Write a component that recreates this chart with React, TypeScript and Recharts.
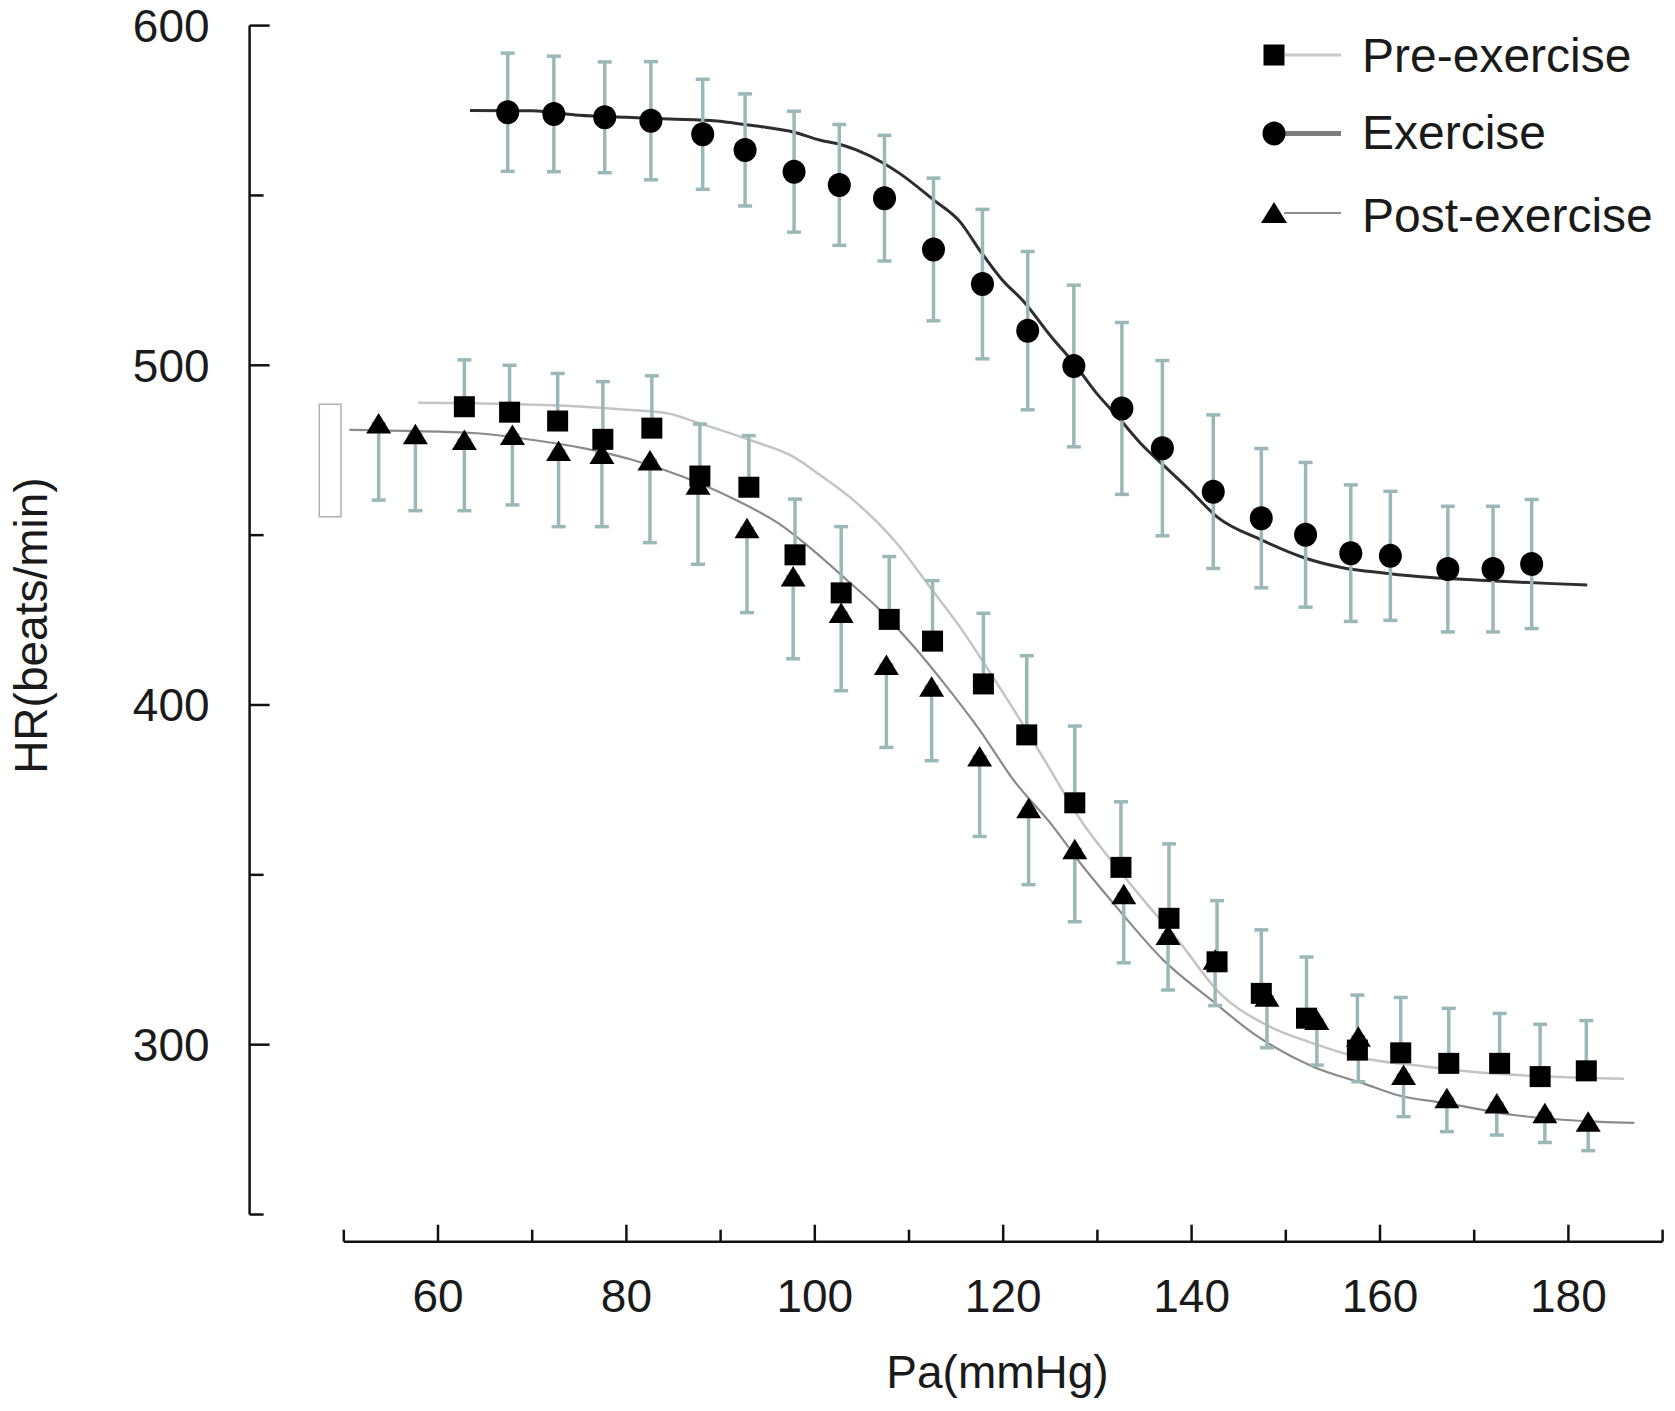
import React from 'react';
import {
  ComposedChart,
  Line,
  Scatter,
  XAxis,
  YAxis,
  ErrorBar,
  ReferenceLine,
  ReferenceArea,
  Legend,
} from 'recharts';

const FONT = '"Liberation Sans", Arial, Helvetica, sans-serif';
const TEXT = '#1a1a1a';
const AXIS = '#111111';
const ERR = '#9ab8b8';

// ---------- tick values ----------
const xTicks = [50, 60, 70, 80, 90, 100, 110, 120, 130, 140, 150, 160, 170, 180, 190];
const xMajor = [60, 80, 100, 120, 140, 160, 180];
const yTicks = [250, 300, 350, 400, 450, 500, 550, 600];
const yMajor = [300, 400, 500, 600];

// ---------- Pre-exercise (squares, upper error) ----------
const preX = [62.8, 67.6, 72.7, 77.5, 82.7, 87.8, 93.0, 97.9, 102.8, 107.9, 112.5, 117.9, 122.5, 127.6, 132.5, 137.6, 142.7, 147.4, 152.2, 157.6, 162.2, 167.3, 172.7, 177.0, 181.9];
const preY = [487.8, 486.2, 483.6, 478.2, 481.5, 467.4, 464.1, 444.2, 433.0, 425.2, 418.8, 406.2, 391.2, 371.2, 352.2, 337.2, 324.4, 315.1, 307.8, 298.4, 297.6, 294.5, 294.5, 290.6, 292.3];
const preErrUp = [13.8, 13.8, 14.0, 17.0, 15.4, 15.3, 15.2, 16.4, 19.5, 18.5, 17.8, 20.8, 23.3, 22.6, 19.3, 21.9, 18.0, 18.7, 18.0, 16.2, 16.3, 16.2, 14.7, 15.4, 14.8];

// ---------- Exercise (circles, symmetric error) ----------
const exX = [67.4, 72.3, 77.7, 82.6, 88.1, 92.6, 97.8, 102.6, 107.4, 112.6, 117.8, 122.6, 127.5, 132.6, 136.9, 142.3, 147.4, 152.1, 156.9, 161.1, 167.2, 172.0, 176.1];
const exY = [574.5, 574.0, 573.0, 572.0, 568.0, 563.4, 557.0, 553.1, 549.2, 534.1, 523.9, 510.2, 499.8, 487.3, 475.6, 462.8, 455.0, 450.1, 444.7, 443.9, 440.0, 440.0, 441.5];
const exErr = [17.4, 17.0, 16.3, 17.4, 16.2, 16.5, 17.8, 17.8, 18.5, 21.0, 22.0, 23.3, 23.8, 25.3, 25.8, 22.6, 20.5, 21.3, 20.1, 19.0, 18.5, 18.5, 19.0];

// ---------- Post-exercise (triangles, lower error) ----------
const postX = [53.7, 57.6, 62.8, 67.9, 72.8, 77.4, 82.5, 87.6, 92.8, 97.7, 102.8, 107.6, 112.4, 117.5, 122.7, 127.6, 132.8, 137.5, 142.5, 148.0, 153.3, 157.7, 162.5, 167.1, 172.4, 177.5, 182.1];
const postY = [482.9, 479.7, 478.0, 479.5, 474.8, 473.9, 472.0, 464.8, 452.0, 437.8, 427.1, 411.8, 405.4, 384.8, 369.6, 357.5, 344.3, 332.3, 325.0, 314.1, 307.3, 302.3, 291.1, 284.2, 282.7, 279.8, 277.3];
const postErrDown = [22.6, 22.5, 20.8, 20.6, 22.3, 21.4, 24.2, 23.4, 24.8, 24.2, 22.9, 24.3, 21.8, 23.5, 22.5, 21.3, 20.2, 16.2, 13.5, 15.0, 13.3, 13.2, 12.3, 9.8, 9.3, 8.6, 8.5];

// ---------- fitted curves ----------
const preCurveX = [57.9, 64, 74, 79, 84.3, 87.8, 93.1, 97.7, 100.55, 104.1, 108.7, 112.2, 115.4, 118.2, 121.8, 124.6, 128.2, 131.7, 135.2, 138.8, 143.0, 147.6, 152.9, 158.2, 163.5, 170.6, 177.7, 183.4, 185.9];
const preCurveY = [489.0, 488.8, 488.0, 487.1, 485.9, 482.9, 478.0, 473.1, 467.7, 460.3, 447.6, 434.8, 423.0, 411.3, 395.6, 382.8, 366.2, 353.4, 341.6, 329.9, 315.1, 306.3, 300.4, 296.0, 294.0, 291.8, 290.6, 290.1, 290.0];

const exCurveX = [63.4, 70, 75, 80, 84.6, 89.6, 92.7, 94.9, 97.7, 100.5, 102.7, 104.4, 107.3, 109, 112.6, 115.4, 117.6, 119.9, 122.1, 125.1, 127.5, 129.9, 132.3, 134.6, 137.0, 139.8, 142.7, 147.4, 152.1, 155.9, 160.6, 165.4, 170.1, 177.7, 182.0];
const exCurveY = [575.0, 574.9, 573.6, 573.0, 572.5, 571.9, 570.8, 570.0, 568.7, 566.3, 565.0, 563.4, 559.5, 556.5, 548.7, 542.3, 533.5, 525.1, 519.0, 508.4, 500.6, 491.8, 484.4, 477.0, 470.6, 463.3, 455.4, 448.6, 443.2, 440.5, 438.8, 437.5, 436.8, 435.8, 435.3];

const postCurveX = [50.6, 64.1, 70.1, 75.4, 80.7, 86.0, 91.3, 96.5, 99.8, 103.4, 106.9, 110.5, 114.0, 117.5, 121.1, 125.3, 128.2, 131.7, 137.0, 142.3, 146.5, 152.9, 158.2, 161.8, 167.1, 174.2, 183.4, 187.0];
const postCurveY = [481.0, 480.0, 478.0, 475.6, 472.1, 467.2, 460.8, 452.8, 445.6, 436.8, 428.0, 417.2, 405.4, 392.6, 377.9, 364.2, 353.4, 341.6, 324.9, 312.7, 303.4, 293.5, 288.6, 285.2, 282.7, 279.3, 277.3, 277.0];

// ---------- build series ----------
const preData = preX.map((x, i) => ({ x, y: preY[i], err: [0, preErrUp[i]] }));
const exData = exX.map((x, i) => ({ x, y: exY[i], err: exErr[i] }));
const postData = postX.map((x, i) => ({ x, y: postY[i], err: [postErrDown[i], 0] }));
const preCurve = preCurveX.map((x, i) => ({ x, y: preCurveY[i] }));
const exCurve = exCurveX.map((x, i) => ({ x, y: exCurveY[i] }));
const postCurve = postCurveX.map((x, i) => ({ x, y: postCurveY[i] }));

// ---------- marker shapes ----------
const SquareShape = (p: any) => (
  <rect x={p.cx - 10.5} y={p.cy - 10.5} width={21} height={21} fill="#000" />
);
const CircleShape = (p: any) => <ellipse cx={p.cx} cy={p.cy} rx={11.5} ry={12} fill="#000" />;
const TriangleShape = (p: any) => (
  <polygon
    points={`${p.cx},${p.cy - 10.5} ${p.cx + 12.5},${p.cy + 10} ${p.cx - 12.5},${p.cy + 10}`}
    fill="#000"
  />
);

// ---------- axis ticks ----------
const XTick = (props: any) => {
  const { x, y, payload } = props;
  const major = xMajor.includes(payload.value);
  return (
    <g>
      <line x1={x} x2={x} y1={y} y2={y - (major ? 17 : 12)} stroke={AXIS} strokeWidth={2.5} />
      {major && (
        <text x={x} y={y + 70} textAnchor="middle" fontSize={46} fontFamily={FONT} fill={TEXT}>
          {payload.value}
        </text>
      )}
    </g>
  );
};

const YTick = (props: any) => {
  const { x, y, payload } = props;
  const major = yMajor.includes(payload.value);
  return (
    <g>
      <line x1={x} x2={x + (major ? 20 : 14)} y1={y} y2={y} stroke={AXIS} strokeWidth={2.5} />
      {major && (
        <text x={x - 40} y={y + 16.5} textAnchor="end" fontSize={46} fontFamily={FONT} fill={TEXT}>
          {payload.value}
        </text>
      )}
    </g>
  );
};

const XTitle = (props: any) => {
  const vb = props.viewBox || { x: 0, y: 0, width: 0, height: 0 };
  const cx = vb.x + (vb.width * 80) / 150 - 5.7;
  return (
    <text x={cx} y={vb.y + 146.6} textAnchor="middle" fontSize={46} fontFamily={FONT} fill={TEXT}>
      Pa(mmHg)
    </text>
  );
};

const YTitle = (props: any) => {
  const vb = props.viewBox || { x: 0, y: 0, width: 0, height: 0 };
  const cy = vb.y + 600;
  const tx = 47;
  return (
    <text
      x={tx}
      y={cy}
      transform={`rotate(-90, ${tx}, ${cy})`}
      textAnchor="middle"
      fontSize={46}
      fontFamily={FONT}
      fill={TEXT}
    >
      HR(beats/min)
    </text>
  );
};

// ---------- legend ----------
const legendNames = ['Pre-exercise', 'Exercise', 'Post-exercise'];
const LegendBox = () => (
  <svg width={420} height={240} style={{ overflow: 'visible' }}>
    <rect x={15.5} y={21.5} width={21} height={21} fill="#000" />
    <line x1={37} x2={93} y1={32} y2={32} stroke="#c8c8c8" strokeWidth={3} />
    <text x={114} y={48.7} fontSize={48} fontFamily={FONT} fill={TEXT}>
      {legendNames[0]}
    </text>

    <line x1={36} x2={93} y1={110.5} y2={110.5} stroke="#7d7d7d" strokeWidth={5} />
    <ellipse cx={26} cy={110.5} rx={11.5} ry={12} fill="#000" />
    <text x={114} y={126} fontSize={48} fontFamily={FONT} fill={TEXT}>
      {legendNames[1]}
    </text>

    <line x1={36} x2={93} y1={190} y2={190} stroke="#8e8e8e" strokeWidth={2} />
    <polygon points="26,179 39,200 13,200" fill="#000" />
    <text x={114} y={208.7} fontSize={48} fontFamily={FONT} fill={TEXT}>
      {legendNames[2]}
    </text>
  </svg>
);

export default function App() {
  return (
    <div style={{ position: 'absolute', left: 0, top: 0, width: 1675, height: 1411, background: '#fff' }}>
      <ComposedChart
        width={1675}
        height={1411}
        margin={{ top: 25.6, right: 12.4, bottom: 168.3, left: 248.6 }}
      >
        <XAxis
          type="number"
          dataKey="x"
          domain={[40, 190]}
          ticks={xTicks}
          interval={0}
          allowDataOverflow
          axisLine={false}
          tickLine={false}
          tickSize={0}
          tickMargin={0}
          height={1}
          tick={<XTick />}
          label={{ content: <XTitle /> }}
        />
        <YAxis
          type="number"
          dataKey="y"
          domain={[242, 600]}
          ticks={yTicks}
          interval={0}
          allowDataOverflow
          axisLine={false}
          tickLine={false}
          tickSize={0}
          tickMargin={0}
          width={1}
          tick={<YTick />}
          label={{ content: <YTitle /> }}
        />

        <ReferenceLine
          segment={[{ x: 40, y: 250 }, { x: 40, y: 600 }]}
          stroke={AXIS}
          strokeWidth={2.5}
          ifOverflow="visible"
        />
        <ReferenceLine
          segment={[{ x: 50, y: 242 }, { x: 190, y: 242 }]}
          stroke={AXIS}
          strokeWidth={2.5}
          ifOverflow="visible"
        />
        <ReferenceArea
          x1={47.4}
          x2={49.7}
          y1={455.4}
          y2={488.5}
          fill="#ffffff"
          fillOpacity={0}
          stroke="#b0b0b0"
          strokeWidth={1.5}
          ifOverflow="visible"
        />

        <Line
          data={preCurve}
          dataKey="y"
          type="monotone"
          stroke="#c4c4c4"
          strokeWidth={2.5}
          dot={false}
          activeDot={false}
          isAnimationActive={false}
          legendType="none"
        />
        <Line
          data={postCurve}
          dataKey="y"
          type="monotone"
          stroke="#8a8a8a"
          strokeWidth={2.2}
          dot={false}
          activeDot={false}
          isAnimationActive={false}
          legendType="none"
        />
        <Line
          data={exCurve}
          dataKey="y"
          type="monotone"
          stroke="#2e2e2e"
          strokeWidth={3}
          dot={false}
          activeDot={false}
          isAnimationActive={false}
          legendType="none"
        />

        <Scatter data={exData} dataKey="y" shape={CircleShape} isAnimationActive={false} name="Exercise">
          <ErrorBar dataKey="err" direction="y" width={7} stroke={ERR} strokeWidth={3.5} />
        </Scatter>
        <Scatter data={postData} dataKey="y" shape={TriangleShape} isAnimationActive={false} name="Post-exercise">
          <ErrorBar dataKey="err" direction="y" width={7} stroke={ERR} strokeWidth={3.5} />
        </Scatter>
        <Scatter data={preData} dataKey="y" shape={SquareShape} isAnimationActive={false} name="Pre-exercise">
          <ErrorBar dataKey="err" direction="y" width={7} stroke={ERR} strokeWidth={3.5} />
        </Scatter>

        <Legend
          layout="vertical"
          align="center"
          verticalAlign="middle"
          content={() => <LegendBox />}
          wrapperStyle={{ position: 'absolute', left: 1248, top: 23, width: 420, height: 240 }}
        />
      </ComposedChart>
    </div>
  );
}
